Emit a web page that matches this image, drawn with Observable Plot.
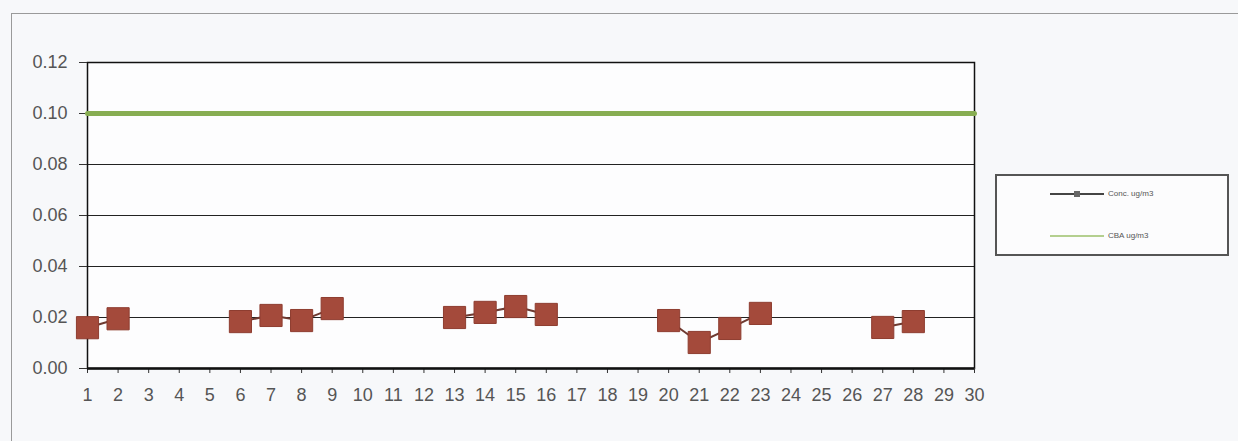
<!DOCTYPE html>
<html><head><meta charset="utf-8">
<script src="https://cdn.jsdelivr.net/npm/d3@7"></script>
<script src="https://cdn.jsdelivr.net/npm/@observablehq/plot@0.6"></script>
<style>
body{margin:0;background:#f7f8fa;}
#wrap{position:relative;width:1238px;height:441px;overflow:hidden;font-family:"Liberation Sans",Arial,sans-serif;}
#frame{position:absolute;left:11px;top:13px;width:1300px;height:500px;border:1.5px solid #9a9a9a;box-sizing:border-box;}
#chart{position:absolute;left:0;top:0;}
#legend{position:absolute;left:995px;top:174px;width:234px;height:82px;border:2px solid #555;box-sizing:border-box;background:#fcfcfd;}
.lg{position:absolute;left:53px;display:flex;align-items:center;font-size:8px;color:#555;}
.lg svg{margin-right:4px;}
</style></head>
<body>
<div id="wrap">
  <div id="frame"></div>
  <div id="chart"></div>
  <div id="legend">
    <div class="lg" style="top:13px"><svg width="54" height="8"><line x1="0" y1="4" x2="54" y2="4" stroke="#444" stroke-width="2"/><rect x="24" y="1" width="6" height="6" fill="#666"/></svg><span>Conc. ug/m3</span></div>
    <div class="lg" style="top:55px"><svg width="54" height="8"><line x1="0" y1="4" x2="54" y2="4" stroke="#9cc06a" stroke-width="1.5"/></svg><span>CBA ug/m3</span></div>
  </div>
</div>
<script>
const days = d3.range(1, 31);
const concValues = [0.016, 0.0195, null, null, null, 0.0184, 0.0208, 0.0188, 0.0235, null,
                    null, null, 0.020, 0.022, 0.0243, 0.0212, null, null, null, 0.0188,
                    0.0102, 0.0157, 0.0216, null, null, null, 0.0161, 0.0184, null, null];
const limitValues = days.map(() => 0.10);
const yTicks = [0, 0.02, 0.04, 0.06, 0.08, 0.10, 0.12];

const concData = days.map((d, i) => ({day: d, v: concValues[i] == null ? NaN : concValues[i]}));
const limitData = days.map((d, i) => ({day: d, v: limitValues[i]}));
const fmt = d3.format(".2f");

const chart = Plot.plot({
  width: 1238, height: 441,
  marginLeft: 87, marginRight: 264, marginTop: 62, marginBottom: 73,
  style: {background: "transparent", fontFamily: "Liberation Sans, Arial, sans-serif", fontSize: "18px", color: "#555"},
  x: {domain: [1, 30], label: null},
  y: {domain: [0, 0.12], label: null},
  marks: [
    Plot.frame({fill: "#fdfdfe", stroke: null}),
    Plot.ruleY(yTicks, {stroke: "#222", strokeWidth: 1}),
    Plot.frame({stroke: "#111", strokeWidth: 1.5}),
    Plot.axisX({ticks: days, tickSize: 5, tickPadding: 15, tickFormat: d => String(d), stroke: "#333", fill: "#555", fontSize: 18}),
    Plot.axisY({ticks: yTicks, tickSize: 8, tickPadding: 12, tickFormat: fmt, stroke: "#333", fill: "#555", fontSize: 18}),
    Plot.ruleY([0], {stroke: "#111", strokeWidth: 2.5}),
    Plot.line(limitData, {x: "day", y: "v", stroke: "#87ad52", strokeWidth: 5}),
    Plot.line(concData, {x: "day", y: "v", stroke: "#6e3a31", strokeWidth: 2}),
    Plot.dot(concData.filter(d => !isNaN(d.v)), {x: "day", y: "v", symbol: "square", r: 12.5, fill: "#a44a3b", stroke: "#8e3d30", strokeWidth: 1})
  ]
});
document.getElementById("chart").appendChild(chart);
</script>
</body></html>
